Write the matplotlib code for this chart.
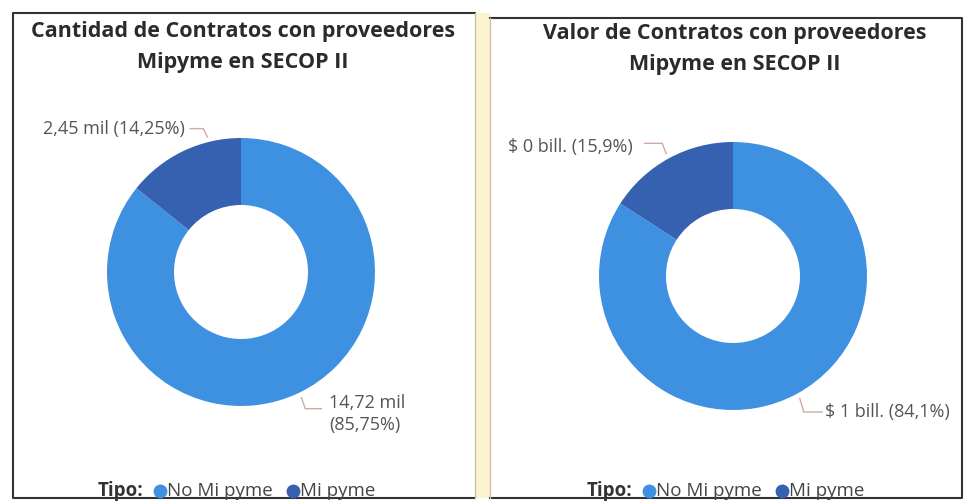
import numpy as np
import matplotlib.pyplot as plt

# datos
categorias = ["No Mi pyme", "Mi pyme"]
colores = ["#3e90e1", "#3561b0"]

cantidad_pct = [85.75, 14.25]
cantidad_txt = ["14,72 mil", "2,45 mil"]
valor_pct = [84.1, 15.9]
valor_txt = ["$ 1 bill.", "$ 0 bill."]

titulos = [
    ["Cantidad de Contratos con proveedores", "Mipyme en SECOP II"],
    ["Valor de Contratos con proveedores", "Mipyme en SECOP II"],
]

W, H = 966, 503
R = 134  # radio del donut en px
FONT = "Open Sans"
LEADER = "#cfaaa2"


def pct_fmt(p, dec):
    return f"{p:.{dec}f}".replace(".", ",") + "%"


def donut(cx, cy, pct, txt, dec, layout):
    ax = fig.add_axes([(cx - R) / W, (H - cy - R) / H, 2 * R / W, 2 * R / H])
    ax.pie(pct, colors=colores, startangle=90, counterclock=False,
           radius=1, wedgeprops=dict(width=0.5, linewidth=0))
    ax.set_xlim(-1, 1)
    ax.set_ylim(-1, 1)
    ax.set_axis_off()

    # angulo medio de cada porcion (sentido horario desde las 12)
    acum = np.cumsum([0] + list(pct))
    total = acum[-1]
    for i, (p, t) in enumerate(zip(pct, txt)):
        ang, tx, ty, ly, lx_end, side, wrap = layout[i]
        if ang is None:
            mid = (acum[i] + acum[i + 1]) / 2 / total * 360
            ang = 90 - mid
        a = np.radians(ang)
        p0 = (1.04 * np.cos(a), 1.04 * np.sin(a))
        p1 = (p0[0] + side * 0.03, ly)
        p2 = (lx_end, ly)
        ax.plot([p0[0], p1[0], p2[0]], [p0[1], p1[1], p2[1]],
                color=LEADER, lw=1, clip_on=False)
        sep = "\n" if wrap else " "
        ax.text(tx, ty, f"{t}{sep}({pct_fmt(p, dec)})",
                ha="left" if side > 0 else "right", va="center",
                fontsize=13, color="#555555", family=FONT,
                linespacing=1.35)


fig = plt.figure(figsize=(W / 100, H / 100), dpi=100)
bg = fig.add_axes([0, 0, 1, 1])
bg.set_xlim(0, W)
bg.set_ylim(H, 0)
bg.set_axis_off()

# marcos de los paneles
bg.fill_between([475, 490], 13, 498, color="#fbf2cf", lw=0)
bg.plot([475, 13, 13, 475], [13, 13, 498, 498], color="#333333", lw=1.5)
bg.plot([475, 475], [13, 498], color="#c9c2a8", lw=1)
bg.plot([490, 962, 962, 490], [18, 18, 498, 498], color="#333333", lw=1.5)
bg.plot([490, 490], [18, 498], color="#c9c2a8", lw=1)

centros = [(241, 272), (733, 276)]
for (cx, cy), tit, y1 in zip(centros, titulos, [31, 33]):
    bg.text(cx + 2, y1, tit[0], ha="center", va="center", fontsize=15.5,
            fontweight="bold", color="#2b2b2b", family=FONT)
    bg.text(cx + 2, y1 + 31, tit[1], ha="center", va="center", fontsize=15.5,
            fontweight="bold", color="#2b2b2b", family=FONT)

# leyenda
for lx in [98, 587]:
    bg.text(lx, 491, "Tipo:", ha="left", va="center", fontsize=13.5,
            fontweight="bold", color="#333333", family=FONT)
    xs = [lx + 62, lx + 195]
    for x, cat, col in zip(xs, categorias, colores):
        bg.plot(x, 491, "o", ms=10, color=col, mec="none")
        bg.text(x + 7, 491, cat, ha="left", va="center", fontsize=13.5,
                color="#444444", family=FONT)

# (angulo, x texto, y texto, y guia, x fin guia, lado, partir)
donut(241, 272, cantidad_pct, cantidad_txt, 2,
      [(None, 0.66, -1.06, -1.02, 0.60, 1, True),
       (104, -0.42, 1.07, 1.07, -0.38, -1, False)])
donut(733, 276, valor_pct, valor_txt, 1,
      [(None, 0.69, -1.015, -1.015, 0.665, 1, False),
       (None, -0.75, 0.96, 0.99, -0.66, -1, False)])

fig.savefig("out.png", dpi=100)
